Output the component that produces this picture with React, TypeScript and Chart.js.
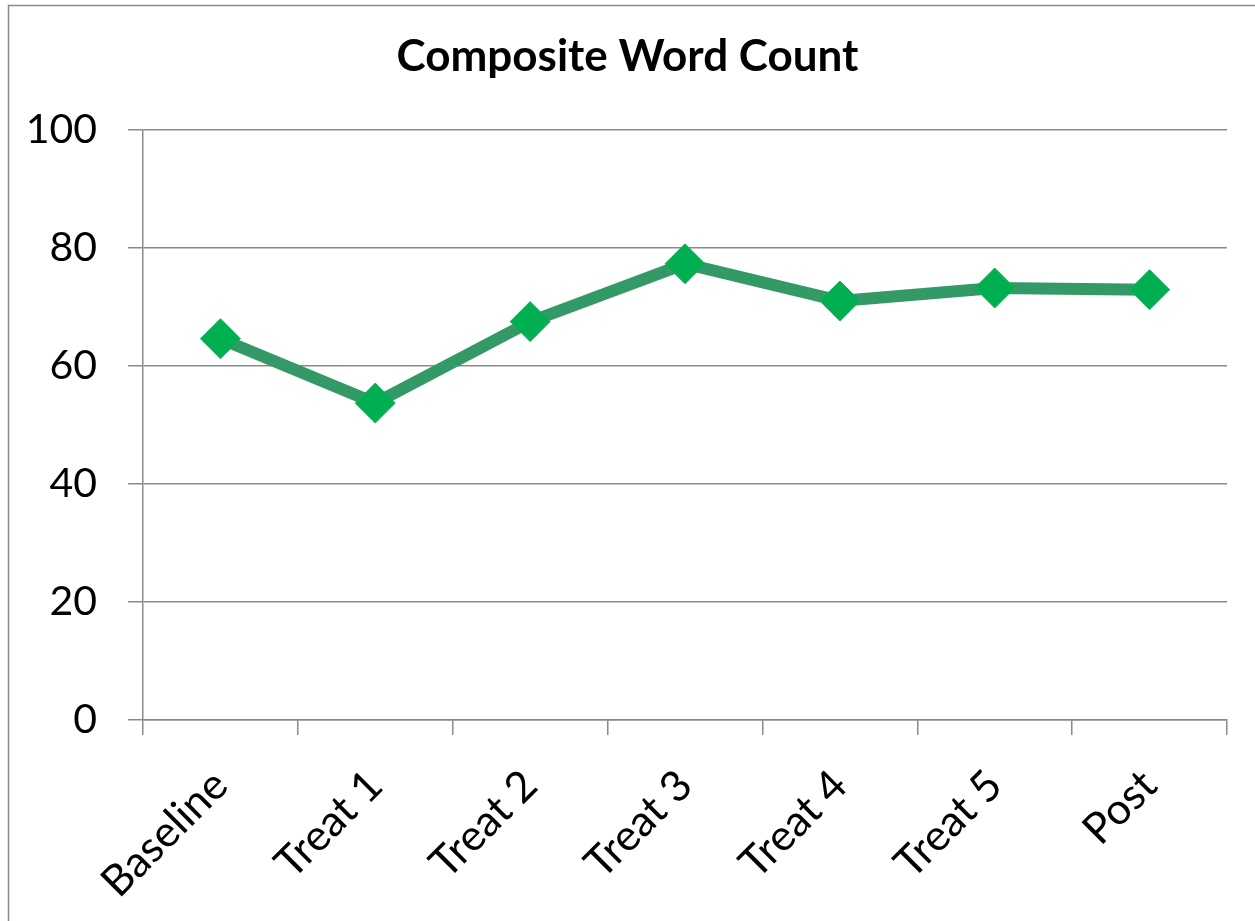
import React, { useEffect, useRef } from "react";
import { Chart, registerables } from "chart.js";

Chart.register(...registerables);

const categories = ["Baseline", "Treat 1", "Treat 2", "Treat 3", "Treat 4", "Treat 5", "Post"];
const wordCounts = [64.6, 53.7, 67.5, 77.3, 71.0, 73.2, 72.9];
const yMin = 0;
const yMax = 100;
const yStep = 20;
const chartTitle = "Composite Word Count";

const FONT = "Lato";
const GRAY = "#8a8a8a";

const borderPlugin = {
  id: "outerBorder",
  afterDraw(chart: any) {
    const ctx = chart.ctx;
    ctx.save();
    ctx.strokeStyle = GRAY;
    ctx.lineWidth = 1.5;
    ctx.beginPath();
    ctx.moveTo(8.5, chart.height + 5);
    ctx.lineTo(8.5, 5.5);
    ctx.lineTo(chart.width + 5, 5.5);
    ctx.stroke();
    ctx.restore();
  },
};

export default function App() {
  const ref = useRef<HTMLCanvasElement | null>(null);
  useEffect(() => {
    if (!ref.current) return;
    const chart = new Chart(ref.current, {
      type: "line",
      data: {
        labels: categories,
        datasets: [
          {
            label: chartTitle,
            data: wordCounts,
            borderColor: "#339966",
            borderWidth: 12,
            pointStyle: "rectRot",
            pointRadius: 20,
            pointBackgroundColor: "#00B050",
            pointBorderColor: "#1fa85e",
            pointBorderWidth: 1,
            tension: 0,
          },
        ],
      },
      options: {
        responsive: false,
        animation: false,
        layout: { padding: { left: 0, right: 0, top: 0, bottom: 0 } },
        plugins: {
          legend: { display: false },
          tooltip: { enabled: false },
          title: {
            display: true,
            text: chartTitle,
            color: "#000",
            font: { family: FONT, size: 44, weight: "bold", lineHeight: 1.2 },
            padding: { top: 30, bottom: 47 },
          },
        },
        scales: {
          x: {
            offset: true,
            grid: {
              display: true,
              drawOnChartArea: false,
              drawTicks: true,
              tickLength: 15,
              color: GRAY,
              lineWidth: 1.5,
              offset: true,
            },
            border: { display: true, color: GRAY, width: 1.5 },
            ticks: {
              color: "#000",
              font: { family: FONT, size: 43 },
              minRotation: 45,
              maxRotation: 45,
              padding: 25,
              labelOffset: 0,
            },
            afterFit(scale: any) {
              scale.height = 201;
            },
          },
          y: {
            min: yMin,
            max: yMax,
            ticks: {
              stepSize: yStep,
              color: "#000",
              font: { family: FONT, size: 41 },
              padding: 31,
            },
            grid: {
              color: GRAY,
              lineWidth: 1.5,
              tickLength: 15,
              drawTicks: true,
            },
            border: { display: true, color: GRAY, width: 1.5 },
            afterFit(scale: any) {
              scale.width = 143;
            },
          },
          yRightSpace: {
            position: "right",
            min: yMin,
            max: yMax,
            display: true,
            ticks: { display: false },
            grid: { display: false },
            border: { display: false },
            afterFit(scale: any) {
              scale.width = 28;
            },
          },
        },
      },
      plugins: [borderPlugin],
    });
    return () => chart.destroy();
  }, []);
  return (
    <div style={{ position: "absolute", left: 0, top: 0, width: 1255, height: 921, background: "#fff" }}>
      <canvas ref={ref} width={1255} height={921} style={{ width: 1255, height: 921 }} />
    </div>
  );
}
